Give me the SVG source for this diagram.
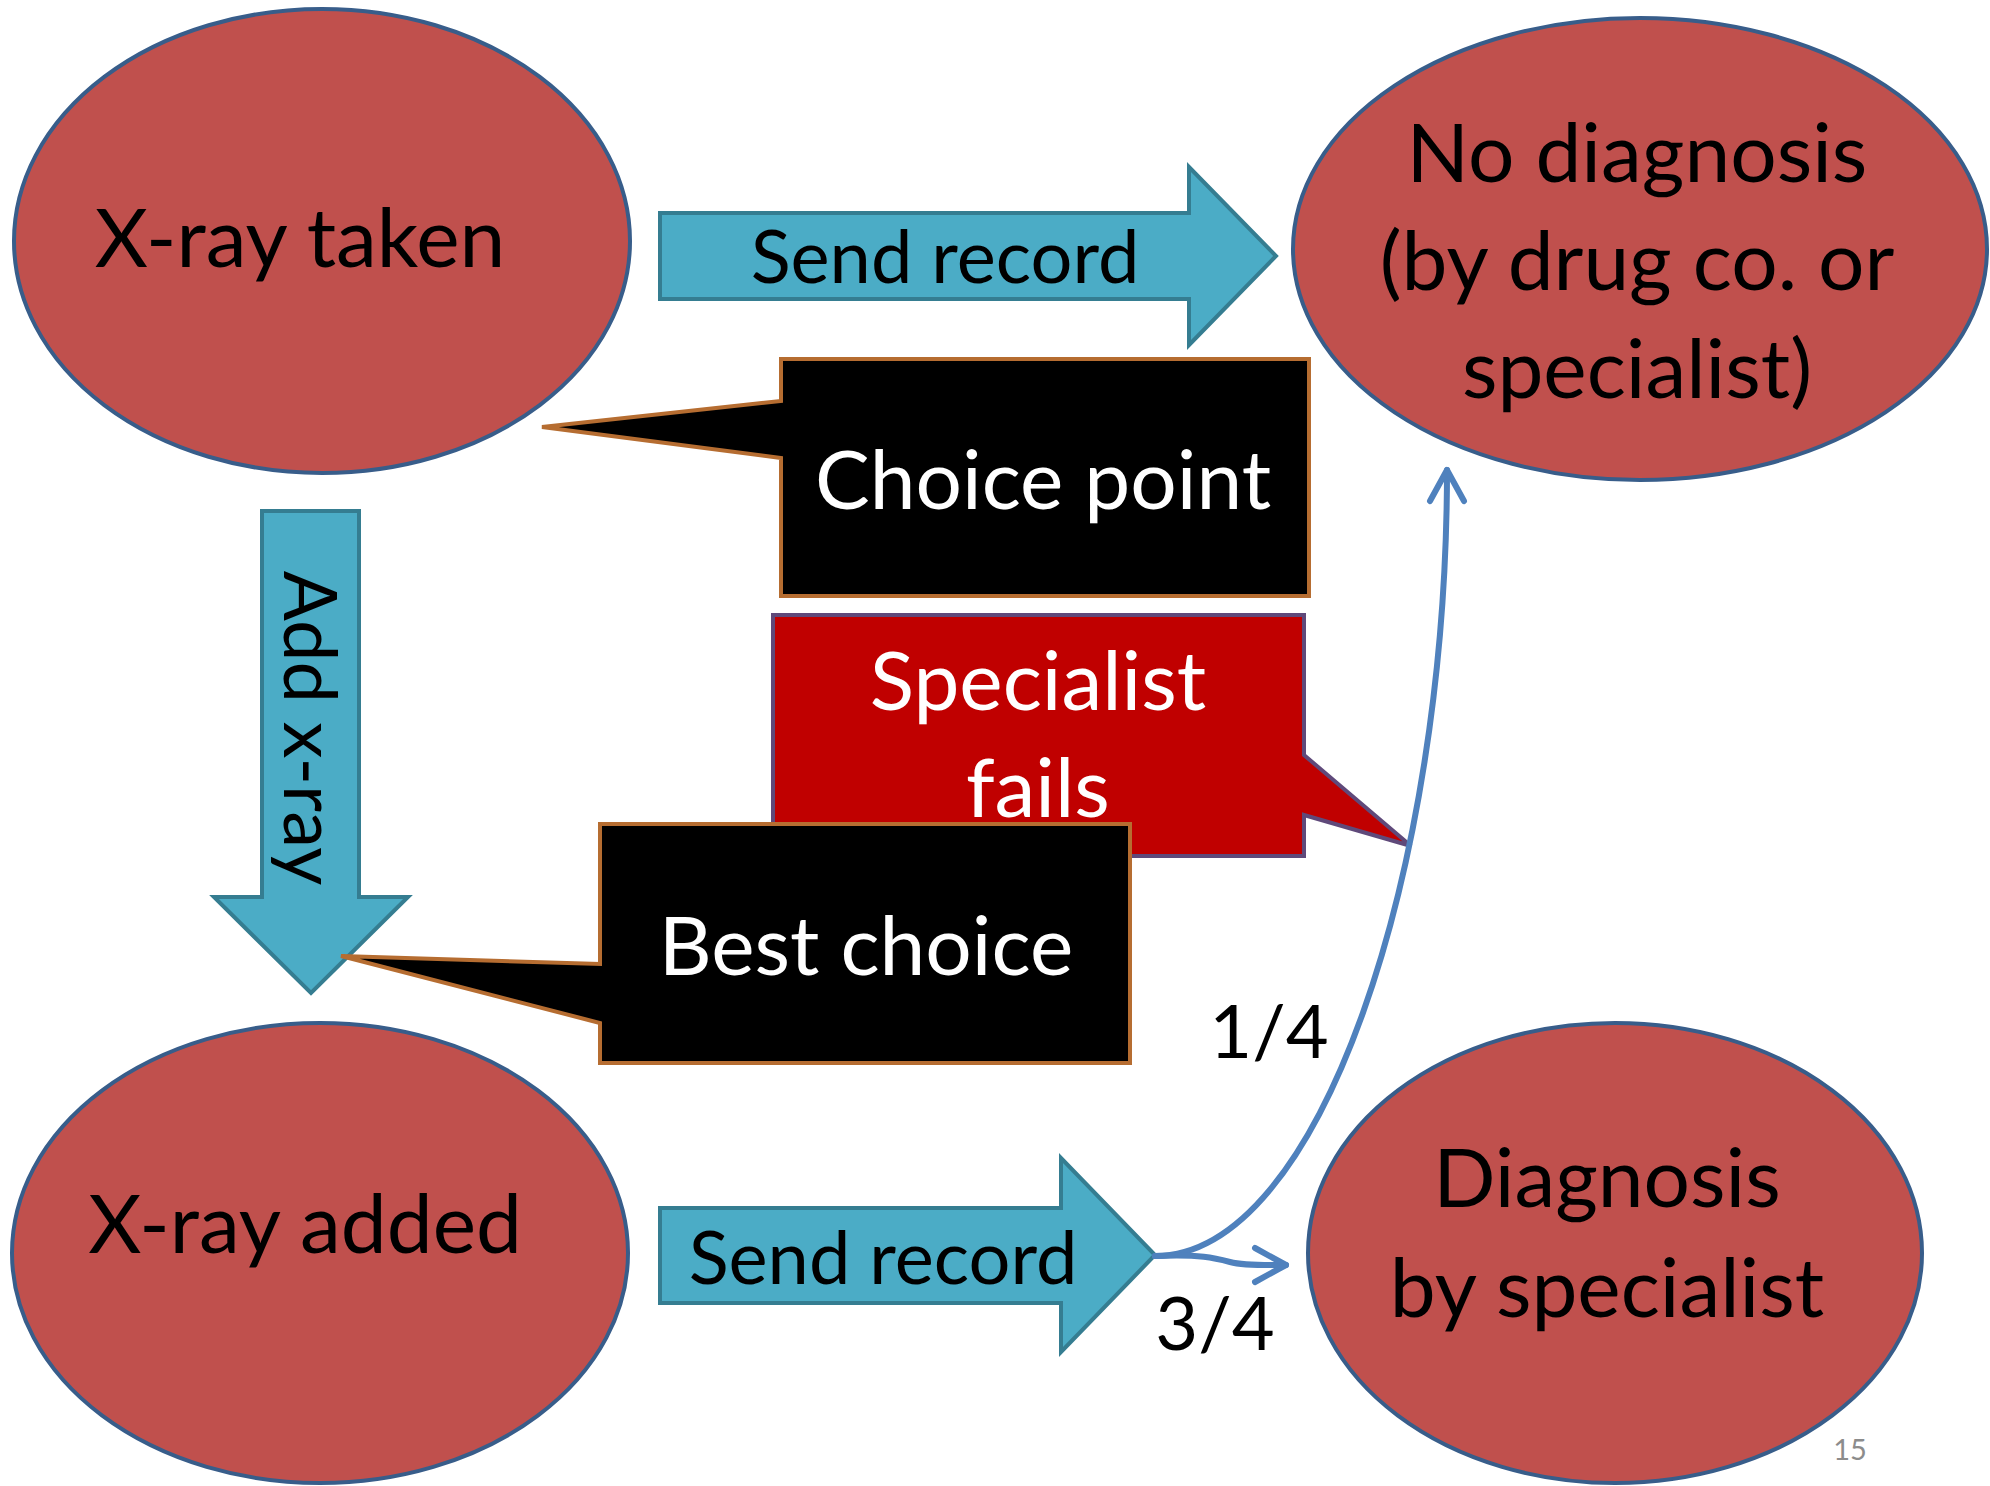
<svg xmlns="http://www.w3.org/2000/svg" width="1990" height="1486" viewBox="0 0 1990 1486">
<style>
.ell{fill:#C0504D;stroke:#385D8A;stroke-width:4}
.arr{fill:#4BACC6;stroke:#357D91;stroke-width:4;stroke-linejoin:miter}
.co{fill:#000000;stroke:#B66D31;stroke-width:4;stroke-linejoin:miter}
.cor{fill:#C00000;stroke:#5F497A;stroke-width:4;stroke-linejoin:miter}
.t{font-family:Lato,"Liberation Sans",sans-serif;text-anchor:middle;fill:#000}
.big{font-size:82px}
.mid{font-size:74px}
.w{fill:#fff}
.con{fill:none;stroke:#4F81BD;stroke-width:6;stroke-linecap:round}
</style>
<defs>
<marker id="open" markerWidth="14" markerHeight="14" refX="11" refY="7" orient="auto" markerUnits="userSpaceOnUse" viewBox="0 0 14 14" overflow="visible">
<path d="M-20,-10 L11,7 L-20,24" fill="none" stroke="#4F81BD" stroke-width="6" stroke-linecap="round" stroke-linejoin="round"/>
</marker>
</defs>
<rect width="1990" height="1486" fill="#fff"/>

<g id="node-xray-taken">
<ellipse class="ell" cx="322" cy="241" rx="308" ry="232"/>
<text class="t big" x="300" y="267">X-ray taken</text>
</g>
<g id="node-no-diagnosis">
<ellipse class="ell" cx="1640" cy="249" rx="347" ry="231"/>
<text class="t big" x="1637" y="182">No diagnosis</text>
<text class="t big" x="1637" y="290">(by drug co. or</text>
<text class="t big" x="1637" y="398">specialist)</text>
</g>
<g id="node-xray-added">
<ellipse class="ell" cx="320" cy="1253" rx="308" ry="230"/>
<text class="t big" x="305" y="1253">X-ray added</text>
</g>
<g id="node-diagnosis">
<ellipse class="ell" cx="1615" cy="1253" rx="307" ry="230"/>
<text class="t big" x="1607" y="1207">Diagnosis</text>
<text class="t big" x="1607" y="1317">by specialist</text>
</g>

<g id="arrow-send-top">
<polygon class="arr" points="660,213 1189,213 1189,167 1276,256 1189,345 1189,299 660,299"/>
<text class="t mid" x="945" y="283">Send record</text>
</g>
<g id="arrow-add-xray">
<polygon class="arr" points="262,511 359,511 359,897 408,897 311,993 214,897 262,897"/>
<text class="t mid" transform="translate(284,728) rotate(90)" x="0" y="0">Add x-ray</text>
</g>
<g id="arrow-send-bottom">
<polygon class="arr" points="660,1208 1061,1208 1061,1158 1155,1255 1061,1352 1061,1303 660,1303"/>
<text class="t mid" x="883" y="1284">Send record</text>
</g>

<g id="callout-choice-point">
<path class="co" d="M781,359 L1309,359 L1309,596 L781,596 L781,458 L542,427 L781,401 Z"/>
<text class="t big w" x="1043" y="509">Choice point</text>
</g>
<g id="callout-specialist-fails">
<path class="cor" d="M773,615 L1304,615 L1304,755 L1411,846 L1304,815 L1304,856 L773,856 Z"/>
<text class="t big w" x="1038" y="710">Specialist</text>
<text class="t big w" x="1038" y="817">fails</text>
</g>
<g id="callout-best-choice">
<path class="co" d="M600,824 L1130,824 L1130,1063 L600,1063 L600,1023 L341,956 L600,964 Z"/>
<text class="t big w" x="866" y="975">Best choice</text>
</g>

<g id="connectors">
<path class="con" d="M1155,1256 C1320,1256 1447,870 1447,470" marker-end="url(#open)"/>
<path class="con" d="M1155,1256 C1200,1254 1215,1258 1230,1262 S1268,1265 1286,1265" marker-end="url(#open)"/>
<text class="t mid" x="1269" y="1058">1/4</text>
<text class="t mid" x="1215" y="1350">3/4</text>
</g>

<text class="t" x="1850" y="1460" font-size="29" style="fill:#8C8C8C">15</text>
</svg>
